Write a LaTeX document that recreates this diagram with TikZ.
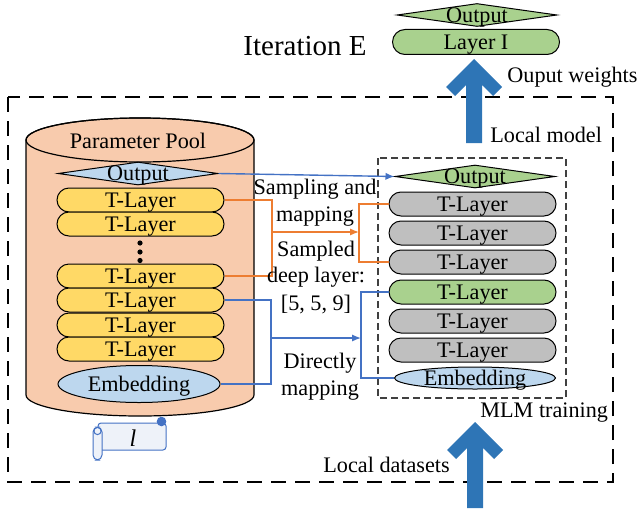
\documentclass[tikz,border=0pt]{standalone}
\usepackage{fontspec}
\setmainfont{Liberation Serif}
\usetikzlibrary{shapes.misc,shapes.geometric,arrows.meta}
\definecolor{pool}{HTML}{F8CBAD}
\definecolor{tyel}{HTML}{FFD966}
\definecolor{lblue}{HTML}{BDD7EE}
\definecolor{lgreen}{HTML}{A9D18E}
\definecolor{lgray}{HTML}{BFBFBF}
\definecolor{oline}{HTML}{ED7D31}
\definecolor{bline}{HTML}{4472C4}
\definecolor{barrow}{HTML}{2E75B6}
\definecolor{scrollc}{HTML}{4472C4}
\definecolor{scrollf}{HTML}{EEF2F9}
\newcommand\ctext[1]{\smash{\raisebox{-3.6pt}{#1}}}
\newcommand\bigup[3]{\fill[barrow] (#1,#2) -- ++(-28,28) -- ++(9,9) -- ++(11,-11) -- (#1-8,#3) -- (#1+8,#3) -- (#1+8,#2+26) -- ++(11,11) -- ++(9,-9) -- cycle;}
\begin{document}
\begin{tikzpicture}[x=0.5pt,y=-0.5pt,
  font=\fontsize{11.1}{13.5}\selectfont,
  layer/.style={rounded rectangle, draw=black, line width=0.5pt, minimum width=83.5pt, minimum height=12pt, inner sep=0pt},
  tl/.style={layer, fill=tyel},
  gl/.style={layer, fill=lgray},
  gr/.style={layer, fill=lgreen},
  dia/.style={diamond, draw=black, line width=0.5pt, fill=#1, minimum width=80pt, minimum height=11.5pt, inner sep=0pt},
  emb/.style={ellipse, draw=black, line width=0.5pt, fill=lblue, inner sep=0pt},
  oconn/.style={draw=oline, line width=0.7pt},
  bconn/.style={draw=bline, line width=0.7pt},
  tip/.style={-{Latex[length=4.5pt,width=3.6pt]}},
  lbl/.style={inner sep=0pt, align=center},
]
\useasboundingbox (0,0) rectangle (640,508);

% outer dashed frame
\draw[line width=0.6pt, dash pattern=on 7.5pt off 4.5pt] (8,97) rectangle (613,482);

% top output
\node[dia=lgreen] (TO) at (477,15) {\makebox[0pt]{\ctext{Output}}};
\path (TO) ++(0,0);
\node[gr, minimum height=12.5pt] (TL) at (476,42) {\ctext{Layer I}};
\node[font=\fontsize{14.5}{16}\selectfont, inner sep=0pt] (iter) at (305,46) {Iteration E};

% big arrows
\bigup{474}{59}{143}
\bigup{475}{422}{508}
\node[lbl, anchor=west] (ow) at (507,77) {Ouput weights};
\node[lbl, anchor=west] (lm) at (490,135) {Local model};
\node[lbl, anchor=west] (mlm) at (480,413) {MLM training};
\node[lbl, anchor=west] (ld) at (323,465) {Local datasets};

% cylinder
\draw[fill=pool, line width=0.6pt] (26,140) -- (26,395) arc[start angle=180, end angle=360, x radius=57pt, y radius=10.5pt] -- (254,140) arc[start angle=0, end angle=180, x radius=57pt, y radius=11pt] -- cycle;
\draw[line width=0.6pt] (140,140) ellipse[x radius=57pt, y radius=11pt];
\node[lbl] (pp) at (138,141) {Parameter Pool};

% left stack
\node[dia=lblue] (LO) at (138,173.5) {\makebox[0pt]{\ctext{Output}}};
\node[tl] (L1) at (140.5,200) {\ctext{T-Layer}};
\node[tl] (L2) at (140.5,224) {\ctext{T-Layer}};
\fill (140,243) circle[radius=1.3pt] (140,252) circle[radius=1.3pt] (140,260.5) circle[radius=1.3pt];
\node[tl] (L3) at (140.5,276) {\ctext{T-Layer}};
\node[tl] (L4) at (140.5,300) {\ctext{T-Layer}};
\node[tl] (L5) at (140.5,325) {\ctext{T-Layer}};
\node[tl] (L6) at (140.5,349) {\ctext{T-Layer}};
\node[emb, minimum width=81pt, minimum height=18.5pt] (LE) at (139,384) {\ctext{Embedding}};

% scroll
\draw[scrollc, fill=scrollf, line width=0.5pt, rounded corners=1.5pt] (98,423) rectangle (166,450);
\fill[scrollc] (161.5,421.5) circle[radius=2.4pt];
\draw[scrollc, fill=scrollf, line width=0.5pt, rounded corners=2.5pt] (93,427) rectangle (102,460);
\draw[scrollc, line width=0.5pt] (97.5,431) circle[radius=1.8pt];
\node[lbl, font=\fontsize{12}{14}\selectfont\itshape] (lv) at (133,438) {l};

% right dashed box
\draw[line width=0.6pt, black!75, dash pattern=on 3.5pt off 2pt] (378,158) rectangle (566,398);
\node[dia=lgreen] (RO) at (475,176.5) {\makebox[0pt]{\ctext{Output}}};
\node[gl] (R1) at (472.5,204) {\ctext{T-Layer}};
\node[gl] (R2) at (472.5,233) {\ctext{T-Layer}};
\node[gl] (R3) at (472.5,262) {\ctext{T-Layer}};
\node[gr] (R4) at (472.5,292) {\ctext{T-Layer}};
\node[gl] (R5) at (472.5,321) {\ctext{T-Layer}};
\node[gl] (R6) at (472.5,350) {\ctext{T-Layer}};
\node[emb, minimum width=80.5pt, minimum height=11pt] (RE) at (475,378) {\makebox[0pt]{\ctext{Embedding}}};

% connectors
\draw[bconn, tip] (LO.east) -- (RO.west);

\coordinate (oj) at (272,232);
\coordinate (oe) at (359,232);
\draw[oconn] (L1.east) -| (oj) |- (L3.east);
\draw[oconn, tip] (oj) -- (oe);
\draw[oconn] (R1.west) -| (oe) |- (R3.west);

\coordinate (bj) at (271,338);
\coordinate (be) at (361,338);
\draw[bconn] (L4.east) -| (bj) |- (LE.east);
\draw[bconn, tip] (bj) -- (be);
\draw[bconn] (R4.west) -| (be) |- (RE.west);

% labels
\node[lbl] (sm) at (315,203) {Sampling and\\mapping};
\node[lbl] (sd) at (316,277) {Sampled\\deep layer:\\{[5, 5, 9]}};
\node[lbl] (dm) at (320,377) {Directly\\mapping};
\end{tikzpicture}
\end{document}
